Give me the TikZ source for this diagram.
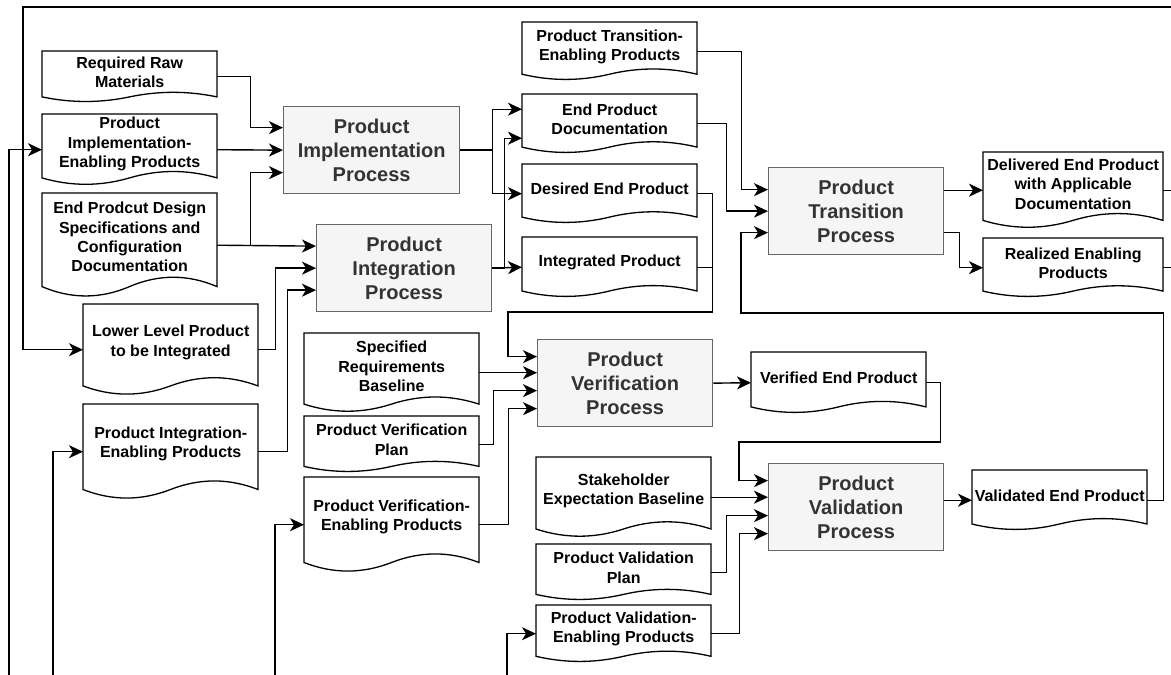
\documentclass[tikz,border=0pt]{standalone}
\usepackage{fontspec}
\setmainfont{Liberation Sans}
\usetikzlibrary{arrows.meta,calc}

\definecolor{procfill}{HTML}{F5F5F5}
\definecolor{procline}{HTML}{666666}
\definecolor{proctext}{HTML}{333333}

\tikzset{
  flow/.style={line width=1.4pt, draw=black, -{Stealth[length=14pt,width=13pt,inset=4pt]}},
  wire/.style={line width=1.4pt, draw=black},
  procbox/.style={draw=procline, fill=procfill, line width=1.3pt, align=center,
    text=proctext, font=\fontsize{20}{24}\selectfont\bfseries, inner sep=0pt, anchor=north west},
  docbox/.style={draw=none, inner sep=0pt, anchor=north west},
  docline/.style={draw=black, fill=white, line width=1.3pt, line join=miter},
  doctext/.style={align=center, font=\fontsize{16}{19.2}\selectfont\bfseries, inner sep=0pt}
}

% document shape with a wavy lower edge: name, left, top, width, height, text
\newcommand\docnode[6]{%
  \pgfmathsetmacro\dH{0.2*#5}%
  \node[docbox, minimum width=#4pt, minimum height=#5pt] (#1) at (#2,#3) {};
  \begin{scope}[shift={(#1.north west)}]
    \draw[docline] (0,0) -- (#4,0) -- (#4,{#5-\dH/2})
      .. controls ({5*#4/6},{#5-1.1*\dH}) and ({2*#4/3},{#5-1.1*\dH}) .. ({#4/2},{#5-\dH/2})
      .. controls ({#4/3},{#5+0.1*\dH}) and ({#4/6},{#5+0.1*\dH}) .. (0,{#5-\dH/2}) -- cycle;
  \end{scope}
  \pgfmathsetmacro\tS{0.4*\dH}%
  \node[doctext] (#1-t) at ([yshift=\tS pt]#1.center) {#6};
}

\begin{document}
\begin{tikzpicture}[x=1pt,y=-1pt]
\useasboundingbox (0,0) rectangle (1171,675);

% process blocks
\node[procbox, minimum width=176pt, minimum height=87pt] (pip)   at (283,106) {Product\\Implementation\\Process};
\node[procbox, minimum width=175pt, minimum height=87pt] (pintp) at (316,224) {Product\\Integration\\Process};
\node[procbox, minimum width=175pt, minimum height=87pt] (ptp)   at (768,167) {Product\\Transition\\Process};
\node[procbox, minimum width=175pt, minimum height=87pt] (pverp) at (537,339) {Product\\Verification\\Process};
\node[procbox, minimum width=175pt, minimum height=87pt] (pvalp) at (768,463) {Product\\Validation\\Process};

% work products
\docnode{rrm}{42}{51}{175}{51}{Required Raw\\Materials}
\docnode{piep}{42}{114}{175}{71}{Product\\Implementation-\\Enabling Products}
\docnode{epds}{42}{193}{175}{104}{End Prodcut Design\\Specifications and\\Configuration\\Documentation}
\docnode{llp}{83}{304}{175}{91}{Lower Level Product\\to be Integrated}
\docnode{pintep}{83}{404}{175}{95}{Product Integration-\\Enabling Products}
\docnode{ptep}{522}{22}{175}{58}{Product Transition-\\Enabling Products}
\docnode{epd}{522}{94}{175}{59}{End Product\\Documentation}
\docnode{dep}{522}{164}{175}{59}{Desired End Product}
\docnode{ip}{522}{237}{175}{60}{Integrated Product}
\docnode{depad}{983}{152}{180}{76}{Delivered End Product\\with Applicable\\Documentation}
\docnode{rep}{983}{238}{180}{59}{Realized Enabling\\Products}
\docnode{srb}{304}{333}{175}{79}{Specified\\Requirements\\Baseline}
\docnode{pvp}{304}{416}{175}{56}{Product Verification\\Plan}
\docnode{pverep}{304}{477}{175}{95}{Product Verification-\\Enabling Products}
\docnode{vep}{751}{352}{175}{61}{Verified End Product}
\docnode{vaep}{972}{470}{175}{60}{Validated End Product}
\docnode{seb}{536}{457}{175}{80}{Stakeholder\\Expectation Baseline}
\docnode{pvap}{536}{544}{175}{56}{Product Validation\\Plan}
\docnode{pvaep}{536}{605}{175}{57}{Product Validation-\\Enabling Products}

% feeds entering from outside
\coordinate (topin) at (1171,7);
\coordinate (bin1) at (9,675);
\coordinate (bin2) at (53,675);
\coordinate (bin3) at (275,675);
\coordinate (bin4) at (507,675);
\draw[flow] (topin) -- (23,7) |- (llp.west);
\draw[flow] (bin1) |- (piep.west);
\draw[flow] (bin2) |- (pintep.west);
\draw[flow] (bin3) |- (pverep.west);
\draw[flow] (bin4) |- (pvaep.west);

% implementation
\draw[flow] (rrm.east) -- ++(33,0) |- ([yshift=22.5pt]pip.west);
\draw[flow] (piep.east) -- (pip.west);
\draw[flow] (epds.east) -- ++(33,0) |- ([yshift=-22.5pt]pip.west);
\draw[flow] (epds.east) -- ([yshift=22pt]pintp.west);

% integration
\draw[flow] (llp.east) -- ++(17,0) |- (pintp.west);
\draw[flow] (pintep.east) -- ++(29,0) |- ([yshift=-22pt]pintp.west);

% implementation / integration outputs
\draw[flow] (pip.east) -- ++(32,0) |- ([yshift=14.5pt]epd.west);
\draw[flow] (pip.east) -- ++(32,0) |- (dep.west);
\draw[flow] (pintp.east) -- (ip.west);
\draw[flow] (pintp.east) -- ++(12,0) |- ([yshift=-14.5pt]epd.west);

% transition
\draw[flow] (ptep.east) -- ++(44,0) |- ([yshift=21.5pt]ptp.west);
\draw[flow] (epd.east) -- ++(29,0) |- (ptp.west);
\draw[flow] (vaep.east) -- ++(16,0) |- (741,313) |- ([yshift=-21.5pt]ptp.west);
\draw[flow] (depad.west -| ptp.east) -- (depad.west);
\draw[flow] ([yshift=-21.5pt]ptp.east) -- ++(15,0) |- (rep.west);
\draw[wire] (depad.east) -- ++(10,0);
\draw[wire] (rep.east) -- ++(10,0);

% verification
\draw[flow] (dep.east) -- ++(15,0) |- (508,312) |- ([yshift=26.5pt]pverp.west);
\draw[wire] (ip.east) -- ++(15,0);
\draw[flow] (srb.east) -- (srb.east -| pverp.west);
\draw[flow] (pvp.east) -- ++(14,0) |- ([yshift=-7.5pt]pverp.west);
\draw[flow] (pverep.east) -- ++(29,0) |- ([yshift=-25.5pt]pverp.west);
\draw[flow] (pverp.east) -- (vep.west);

% validation
\draw[flow] (vep.east) -- ++(14,0) |- (739,442) |- ([yshift=26.5pt]pvalp.west);
\draw[flow] (seb.east) -- (seb.east -| pvalp.west);
\draw[flow] (pvap.east) -- ++(15,0) |- ([yshift=-8.5pt]pvalp.west);
\draw[flow] (pvaep.east) -- ++(28,0) |- ([yshift=-26.5pt]pvalp.west);
\draw[flow] (vaep.west -| pvalp.east) -- (vaep.west);

\end{tikzpicture}
\end{document}
